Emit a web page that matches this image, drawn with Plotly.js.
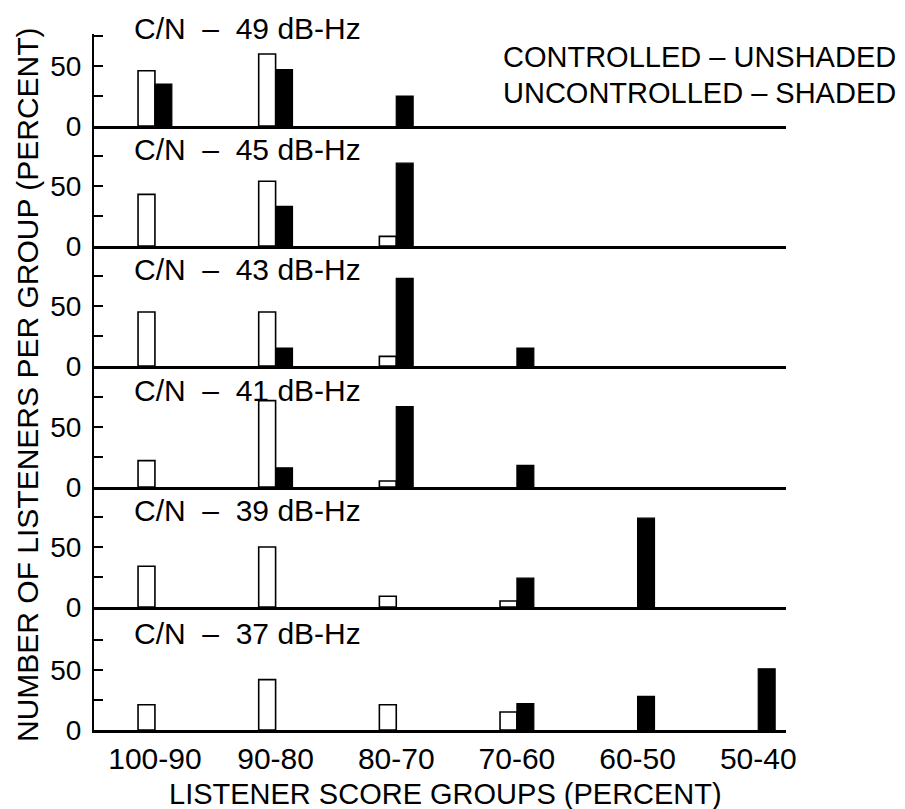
<!DOCTYPE html>
<html>
<head>
<meta charset="utf-8">
<script src="https://cdn.plot.ly/plotly-3.0.1.min.js"></script>
<style>html,body{margin:0;padding:0;background:#fff;}</style>
</head>
<body>
<div id="chart" style="width:905px;height:809px;"></div>
<script>
// ---- data ----
const categories = ['100-90', '90-80', '80-70', '70-60', '60-50', '50-40'];
const panelLabels = [
  'C/N\u00a0 \u2013\u00a0 49 dB-Hz',
  'C/N\u00a0 \u2013\u00a0 45 dB-Hz',
  'C/N\u00a0 \u2013\u00a0 43 dB-Hz',
  'C/N\u00a0 \u2013\u00a0 41 dB-Hz',
  'C/N\u00a0 \u2013\u00a0 39 dB-Hz',
  'C/N\u00a0 \u2013\u00a0 37 dB-Hz'
];
// Controlled (unshaded) listeners, percent per score group
const controlled49 = [46, 60, 0, 0, 0, 0];
const controlled45 = [43, 54, 8, 0, 0, 0];
const controlled43 = [45, 45, 8, 0, 0, 0];
const controlled41 = [22, 72, 5, 0, 0, 0];
const controlled39 = [34, 50, 9, 5, 0, 0];
const controlled37 = [21, 42, 21, 15, 0, 0];
// Uncontrolled (shaded) listeners
const uncontrolled49 = [35, 47, 25, 0, 0, 0];
const uncontrolled45 = [0, 33, 69, 0, 0, 0];
const uncontrolled43 = [0, 15, 73, 15, 0, 0];
const uncontrolled41 = [0, 16, 67, 18, 0, 0];
const uncontrolled39 = [0, 0, 0, 24, 74, 0];
const uncontrolled37 = [0, 0, 0, 22, 28, 51];
const yTickVals = [0, 25, 50, 75];
const yTickText = ['0', '', '50', ''];
const legendLines = ['CONTROLLED \u2013 UNSHADED', 'UNCONTROLLED \u2013 SHADED'];
const xTitle = 'LISTENER SCORE GROUPS (PERCENT)';
const yTitle = 'NUMBER OF LISTENERS PER GROUP (PERCENT)';

const controlledSets = [controlled49, controlled45, controlled43, controlled41, controlled39, controlled37];
const uncontrolledSets = [uncontrolled49, uncontrolled45, uncontrolled43, uncontrolled41, uncontrolled39, uncontrolled37];

// ---- layout geometry ----
const W = 905, H = 809;
const L = 94, R = 786, T = 34, B = 730;
const plotH = B - T, plotW = R - L;
const topPx = [34, 126, 246, 366, 487, 607];
const zeroPx = [126, 246, 366, 487, 607, 730];
const pxPerUnit = 1.2;
const titleAbove = 97; // px above each panel's baseline
const FONT = '"Liberation Sans", Arial, Helvetica, sans-serif';
const nz = v => (v === 0 ? null : v); // zero-height bars are simply not drawn

const data = [];
const layout = {
  width: W, height: H,
  margin: {l: L, r: W - R, t: T, b: H - B, pad: 0},
  paper_bgcolor: '#ffffff', plot_bgcolor: '#ffffff',
  showlegend: false,
  barmode: 'group', bargap: 0.72, bargroupgap: 0,
  font: {family: FONT, color: '#000', size: 28},
  annotations: []
};

for (let i = 0; i < 6; i++) {
  const n = i + 1;
  const xa = 'x' + (n === 1 ? '' : n), ya = 'y' + (n === 1 ? '' : n);
  data.push({
    type: 'bar', x: categories, y: controlledSets[i].map(nz), xaxis: xa, yaxis: ya,
    marker: {color: '#ffffff', line: {color: '#000', width: 1.6}},
    hoverinfo: 'skip'
  });
  data.push({
    type: 'bar', x: categories, y: uncontrolledSets[i].map(nz), xaxis: xa, yaxis: ya,
    marker: {color: '#000000', line: {color: '#000', width: 1.2}},
    hoverinfo: 'skip'
  });
  const d0 = (B - zeroPx[i]) / plotH, d1 = (B - topPx[i]) / plotH;
  const rangeTop = (zeroPx[i] - topPx[i]) / pxPerUnit;
  layout['xaxis' + (n === 1 ? '' : n)] = {
    type: 'category', anchor: ya, domain: [0, 1],
    range: [-0.505, 5.23],
    showline: true, linecolor: '#000', linewidth: 2.5,
    showgrid: false, zeroline: false, ticks: '',
    showticklabels: n === 6,
    tickfont: {size: 30, family: FONT, color: '#000'},
    ticklabelstandoff: 0,
    fixedrange: true
  };
  layout['yaxis' + (n === 1 ? '' : n)] = {
    anchor: xa, domain: [Math.max(0, d0), Math.min(1, d1)],
    range: [0, rangeTop],
    showline: true, linecolor: '#000', linewidth: 2,
    showgrid: false, zeroline: false,
    ticks: 'inside', ticklen: 9, tickwidth: 1.8, tickcolor: '#000',
    tickvals: yTickVals, ticktext: yTickText,
    tickfont: {size: 28, family: FONT, color: '#000'},
    ticklabelstandoff: 5,
    fixedrange: true
  };
  layout.annotations.push({
    text: panelLabels[i], xref: 'paper', yref: 'paper',
    x: (132 - L) / plotW, y: (B - (zeroPx[i] - titleAbove)) / plotH,
    xanchor: 'left', yanchor: 'middle',
    showarrow: false, font: {size: 30, family: FONT, color: '#000'}
  });
}

// legend text
layout.annotations.push({
  text: legendLines[0], xref: 'paper', yref: 'paper',
  x: (898 - L) / plotW, y: (B - 57) / plotH, xanchor: 'right', yanchor: 'middle',
  showarrow: false, font: {size: 29, family: FONT, color: '#000'}
});
layout.annotations.push({
  text: legendLines[1], xref: 'paper', yref: 'paper',
  x: (898 - L) / plotW, y: (B - 93) / plotH, xanchor: 'right', yanchor: 'middle',
  showarrow: false, font: {size: 29, family: FONT, color: '#000'}
});
// axis titles
layout.annotations.push({
  text: xTitle, xref: 'paper', yref: 'paper',
  x: (445 - L) / plotW, y: (B - 794) / plotH, xanchor: 'center', yanchor: 'middle',
  showarrow: false, font: {size: 29, family: FONT, color: '#000'}
});
layout.annotations.push({
  text: yTitle, xref: 'paper', yref: 'paper', textangle: -90,
  x: (27 - L) / plotW, y: (B - 385) / plotH, xanchor: 'center', yanchor: 'middle',
  showarrow: false, font: {size: 30, family: FONT, color: '#000'}
});

Plotly.newPlot('chart', data, layout, {staticPlot: true, displayModeBar: false});
</script>
</body>
</html>
